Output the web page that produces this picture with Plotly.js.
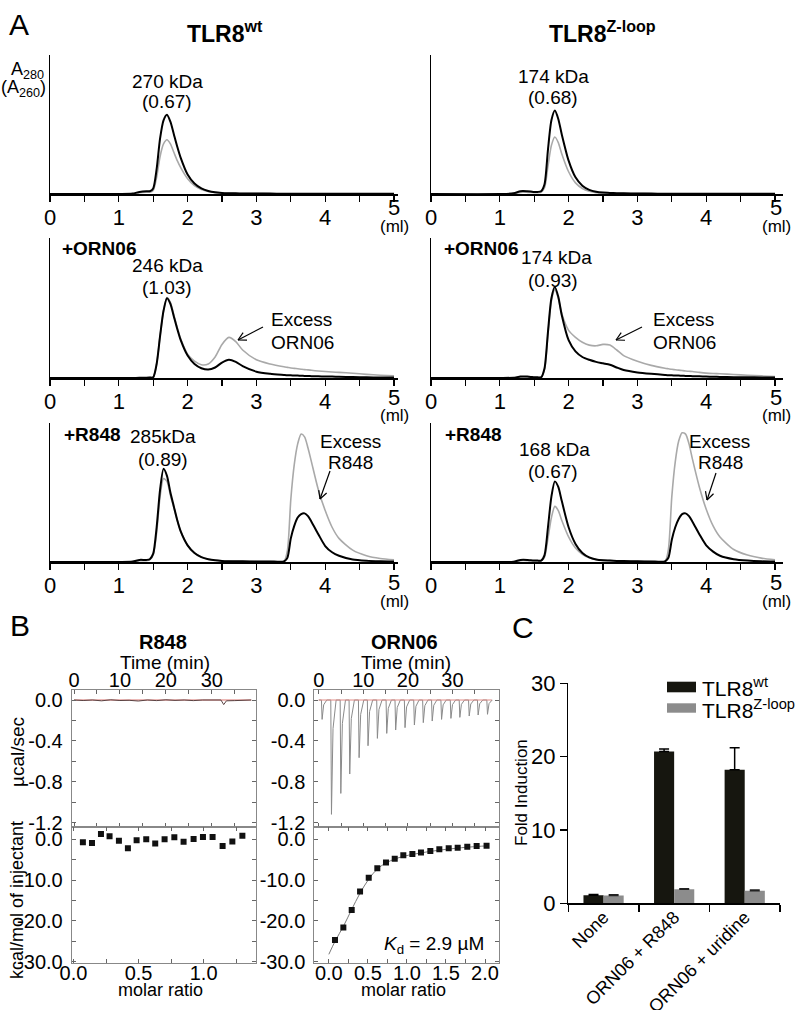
<!DOCTYPE html>
<html>
<head>
<meta charset="utf-8">
<script src="https://cdn.plot.ly/plotly-3.0.1.min.js"></script>
<style>html,body{margin:0;padding:0;background:#fff;}#chart{width:796px;height:1010px;}</style>
</head>
<body>
<div id="chart"></div>
<script>
// ---------- DATA ----------
// Panel A: elution volume grid (ml) and absorbance traces (A280 black, A260 gray), normalized to axis height
const elution = [0, 1.0, 1.2, 1.3, 1.4, 1.45, 1.5, 1.55, 1.6, 1.65, 1.7, 1.75, 1.8, 1.85, 1.9, 2.0, 2.1, 2.2, 2.3, 2.4, 2.5, 2.6, 2.7, 2.8, 3.0, 3.2, 3.4, 3.45, 3.5, 3.55, 3.6, 3.65, 3.7, 3.75, 3.8, 3.9, 4.0, 4.1, 4.2, 4.4, 4.6, 4.8, 5.0];
const wt_apo_A280 = [0,0,0.003,0.015,0.02,0.02,0.04,0.18,0.40,0.53,0.57,0.52,0.43,0.34,0.26,0.14,0.075,0.04,0.022,0.012,0.008,0.006,0.005,0.004,0.003,0.003,0.002,0.002,0.002,0.002,0.002,0.002,0.002,0.002,0.002,0.002,0.002,0.002,0.002,0.001,0.001,0.001,0.001];
const wt_apo_A260 = [0,0,0.002,0.01,0.013,0.013,0.025,0.12,0.27,0.36,0.39,0.36,0.30,0.24,0.19,0.11,0.06,0.033,0.018,0.01,0.007,0.005,0.004,0.003,0.003,0.002,0.002,0.002,0.002,0.002,0.002,0.002,0.002,0.002,0.002,0.002,0.002,0.002,0.002,0.001,0.001,0.001,0.001];
const zl_apo_A280 = [0,0,0.005,0.02,0.02,0.018,0.015,0.015,0.02,0.07,0.32,0.53,0.60,0.54,0.43,0.24,0.12,0.06,0.03,0.016,0.01,0.008,0.006,0.005,0.004,0.003,0.002,0.002,0.002,0.002,0.002,0.002,0.002,0.002,0.002,0.002,0.002,0.002,0.002,0.001,0.001,0.001,0.001];
const zl_apo_A260 = [0,0,0.003,0.012,0.012,0.011,0.01,0.01,0.013,0.045,0.20,0.35,0.41,0.37,0.29,0.16,0.08,0.04,0.02,0.01,0.007,0.005,0.004,0.003,0.003,0.002,0.002,0.002,0.002,0.002,0.002,0.002,0.002,0.002,0.002,0.002,0.002,0.002,0.002,0.001,0.001,0.001,0.001];
const wt_orn_A280 = [0,0,0,0.001,0.002,0.003,0.005,0.1,0.3,0.48,0.57,0.53,0.44,0.35,0.27,0.16,0.1,0.07,0.06,0.075,0.11,0.13,0.115,0.085,0.045,0.03,0.022,0.02,0.019,0.018,0.017,0.016,0.015,0.014,0.013,0.012,0.011,0.01,0.009,0.007,0.005,0.004,0.003];
const wt_orn_A260 = [0,0,0,0.001,0.002,0.003,0.005,0.1,0.3,0.48,0.575,0.54,0.45,0.36,0.28,0.17,0.12,0.095,0.1,0.15,0.24,0.29,0.26,0.2,0.13,0.1,0.08,0.076,0.072,0.069,0.066,0.063,0.06,0.058,0.055,0.05,0.046,0.043,0.04,0.034,0.026,0.02,0.015];
const zl_orn_A280 = [0,0,0.002,0.01,0.01,0.008,0.005,0.005,0.005,0.07,0.33,0.57,0.65,0.58,0.45,0.27,0.19,0.15,0.13,0.115,0.105,0.095,0.075,0.057,0.04,0.03,0.022,0.02,0.019,0.018,0.017,0.016,0.015,0.014,0.013,0.012,0.01,0.009,0.008,0.006,0.005,0.004,0.003];
const zl_orn_A260 = [0,0,0.002,0.008,0.008,0.006,0.004,0.004,0.004,0.06,0.31,0.55,0.63,0.57,0.46,0.34,0.29,0.255,0.235,0.23,0.24,0.235,0.2,0.16,0.12,0.09,0.07,0.066,0.062,0.059,0.056,0.053,0.05,0.048,0.046,0.04,0.035,0.032,0.03,0.025,0.02,0.015,0.01];
const wt_r848_A280 = [0,0,0.003,0.015,0.015,0.02,0.06,0.25,0.52,0.67,0.62,0.5,0.4,0.3,0.22,0.12,0.065,0.035,0.02,0.012,0.008,0.006,0.005,0.005,0.004,0.004,0.004,0.03,0.17,0.26,0.32,0.345,0.35,0.33,0.29,0.2,0.115,0.07,0.045,0.018,0.009,0.005,0.003];
const wt_r848_A260 = [0,0,0.002,0.01,0.01,0.015,0.05,0.21,0.47,0.6,0.58,0.48,0.39,0.3,0.22,0.12,0.065,0.035,0.02,0.012,0.008,0.006,0.005,0.005,0.004,0.004,0.004,0.08,0.45,0.7,0.85,0.92,0.9,0.82,0.72,0.52,0.37,0.25,0.17,0.085,0.045,0.025,0.015];
const zl_r848_A280 = [0,0,0.002,0.015,0.015,0.012,0.01,0.01,0.01,0.05,0.25,0.47,0.58,0.54,0.44,0.25,0.13,0.065,0.033,0.018,0.012,0.01,0.008,0.007,0.005,0.004,0.004,0.03,0.16,0.25,0.31,0.345,0.35,0.33,0.29,0.2,0.12,0.075,0.045,0.02,0.01,0.005,0.003];
const zl_r848_A260 = [0,0,0.002,0.01,0.01,0.009,0.008,0.008,0.008,0.035,0.17,0.32,0.4,0.37,0.3,0.18,0.1,0.055,0.03,0.018,0.012,0.01,0.008,0.007,0.005,0.004,0.004,0.09,0.47,0.72,0.87,0.93,0.92,0.85,0.74,0.54,0.38,0.26,0.18,0.09,0.05,0.028,0.016];
const volTicks = [0, 1, 2, 3, 4];
const volTickText = ['0', '1', '2', '3', '4'];
const volMinorTicks = [0.5, 1.5, 2.5, 3.5, 4.5, 5];

// Panel B: ITC
const r848_time = [0, 2, 4, 6, 8, 10, 12, 14, 16, 18, 20, 22, 24, 26, 28, 30, 32, 32.6, 33.2, 35, 37, 38.6];
const r848_rate = [0, -0.005, 0, -0.008, 0.002, -0.005, -0.003, -0.01, 0, -0.006, 0.002, -0.004, 0, -0.006, 0, -0.003, 0, -0.045, -0.008, -0.006, -0.004, 0];
const r848_ratio = [0.072, 0.142, 0.211, 0.277, 0.349, 0.418, 0.485, 0.559, 0.628, 0.70, 0.775, 0.846, 0.923, 0.995, 1.069, 1.146, 1.221, 1.298];
const r848_heat = [-0.74, -0.9, 1.3, 0.74, -0.34, -2.2, -0.25, 0, -1.0, 0, 0.5, -0.6, 0.07, 0.56, 0.56, -1.64, -0.5, 0.9];
const orn_inj_time = [0.6, 2.7, 4.8, 6.8, 8.9, 10.9, 13.0, 15.1, 17.1, 19.2, 21.3, 23.3, 25.3, 27.4, 29.5, 31.5, 33.6, 35.6, 37.7];
const orn_inj_peak = [-0.19, -1.12, -0.915, -0.725, -0.565, -0.448, -0.376, -0.327, -0.294, -0.271, -0.245, -0.222, -0.206, -0.19, -0.18, -0.17, -0.157, -0.147, -0.14];
const orn_ratio = [0.079, 0.186, 0.293, 0.40, 0.511, 0.621, 0.732, 0.844, 0.954, 1.07, 1.18, 1.30, 1.415, 1.535, 1.65, 1.773, 1.893, 2.02];
const orn_heat = [-24.7, -21.6, -17.3, -12.8, -9.4, -7.1, -5.7, -4.75, -3.9, -3.6, -3.2, -2.87, -2.45, -2.2, -2.05, -1.8, -1.64, -1.55];
const orn_fit_ratio = [0.0, 0.08, 0.19, 0.29, 0.4, 0.51, 0.62, 0.73, 0.85, 0.95, 1.1, 1.3, 1.5, 1.7, 1.9, 2.02];
const orn_fit_heat = [-28.2, -25.0, -21.2, -17.3, -13.2, -9.8, -7.3, -5.8, -4.8, -4.2, -3.6, -2.95, -2.45, -2.05, -1.75, -1.6];

// Panel C: fold induction
const categories = ['None', 'ORN06 + R848', 'ORN06 + uridine'];
const wt_fold = [1.1, 20.7, 18.2];
const wt_err = [0.1, 0.35, 3.0];
const zl_fold = [1.05, 1.9, 1.7];
const zl_err = [0.1, 0.1, 0.1];

// ---------- LAYOUT HELPERS ----------
const W = 796, H = 1010;
const F = 'Liberation Sans, Arial, Helvetica, sans-serif';
const PX = x => x / W, PY = y => 1 - y / H;
function T(text, x, y, size, opts) {
  return Object.assign({text: text, x: PX(x), y: PY(y), xref: 'paper', yref: 'paper', showarrow: false,
    xanchor: 'center', yanchor: 'middle', font: {family: F, size: size, color: '#000'}}, opts || {});
}
function L(x0, y0, x1, y1, w) {
  return {type: 'line', xref: 'paper', yref: 'paper', x0: PX(x0), y0: PY(y0), x1: PX(x1), y1: PY(y1),
    line: {color: '#000', width: w || 1.2}};
}
function arrow(tx, ty, hx, hy) {
  const dx = hx - tx, dy = hy - ty, len = Math.hypot(dx, dy);
  const ux = dx / len, uy = dy / len, hl = 9, a = 28 * Math.PI / 180;
  const r = (s) => [hx - hl * (ux * Math.cos(s * a) - uy * Math.sin(s * a)), hy - hl * (ux * Math.sin(s * a) + uy * Math.cos(s * a))];
  const p1 = r(1), p2 = r(-1);
  return [L(tx, ty, hx, hy), L(hx, hy, p1[0], p1[1]), L(hx, hy, p2[0], p2[1])];
}

// ---------- TRACES ----------
const traces = [];
const aSets = [
  [wt_apo_A280, wt_apo_A260], [zl_apo_A280, zl_apo_A260],
  [wt_orn_A280, wt_orn_A260], [zl_orn_A280, zl_orn_A260],
  [wt_r848_A280, wt_r848_A260], [zl_r848_A280, zl_r848_A260]
];
aSets.forEach((s, i) => {
  const xa = i === 0 ? 'x' : 'x' + (i + 1), ya = i === 0 ? 'y' : 'y' + (i + 1);
  traces.push({type: 'scatter', mode: 'lines', x: elution, y: s[1], xaxis: xa, yaxis: ya,
    line: {color: '#a9a9a9', width: 1.6, shape: 'spline', smoothing: 0.7}});
  traces.push({type: 'scatter', mode: 'lines', x: elution, y: s[0], xaxis: xa, yaxis: ya,
    line: {color: '#000', width: 2, shape: 'spline', smoothing: 0.7}});
});

traces.push({type: 'scatter', mode: 'lines', x: [r848_time[0], r848_time[r848_time.length - 1]], y: [0, 0], xaxis: 'x7', yaxis: 'y7',
  line: {color: '#d9736f', width: 1}});
traces.push({type: 'scatter', mode: 'lines', x: r848_time, y: r848_rate, xaxis: 'x7', yaxis: 'y7',
  line: {color: '#5a4343', width: 1}});
traces.push({type: 'scatter', mode: 'markers', x: r848_ratio, y: r848_heat, xaxis: 'x8', yaxis: 'y8',
  marker: {symbol: 'square', size: 6, color: '#111'}});
const spikeX = [0], spikeY = [0];
orn_inj_time.forEach((t, i) => {
  spikeX.push(t, t + 0.15, t + 0.5, t + 1.2);
  spikeY.push(0, orn_inj_peak[i], orn_inj_peak[i] * 0.25, 0);
});
spikeX.push(38.8); spikeY.push(0);
traces.push({type: 'scatter', mode: 'lines', x: spikeX, y: spikeY, xaxis: 'x9', yaxis: 'y9',
  line: {color: '#8a8a8a', width: 1}});
traces.push({type: 'scatter', mode: 'lines', x: [0, 38.8], y: [0, 0], xaxis: 'x9', yaxis: 'y9',
  line: {color: '#e08a85', width: 1}});
traces.push({type: 'scatter', mode: 'lines', x: orn_fit_ratio, y: orn_fit_heat, xaxis: 'x10', yaxis: 'y10',
  line: {color: '#7a7a7a', width: 1, shape: 'spline'}});
traces.push({type: 'scatter', mode: 'markers', x: orn_ratio, y: orn_heat, xaxis: 'x10', yaxis: 'y10',
  marker: {symbol: 'square', size: 6, color: '#111'}});

traces.push({type: 'bar', x: categories, y: wt_fold, xaxis: 'x11', yaxis: 'y11', name: 'TLR8wt',
  marker: {color: '#16160f', line: {width: 0}},
  error_y: {type: 'data', symmetric: false, array: wt_err, arrayminus: wt_err.map(() => 0), color: '#000', thickness: 1.5, width: 5}});
traces.push({type: 'bar', x: categories, y: zl_fold, xaxis: 'x11', yaxis: 'y11', name: 'TLR8Z-loop',
  marker: {color: '#8c8c8c', line: {width: 0}},
  error_y: {type: 'data', symmetric: false, array: zl_err, arrayminus: zl_err.map(() => 0), color: '#222', thickness: 1.5, width: 5}});

// ---------- AXES ----------
const AL = [50 / W, 398 / W], AR = [431 / W, 783 / W];
const R1 = [PY(194), PY(55)], R2 = [PY(378), PY(238)], R3 = [PY(562), PY(423)];
function aX(dom, rng, anchor) {
  return {domain: dom, range: rng, anchor: anchor, showline: true, linecolor: '#000', linewidth: 1.5,
    ticks: 'outside', ticklen: 6, tickwidth: 1.3, tickcolor: '#000', tickmode: 'array',
    tickvals: volTicks, ticktext: volTickText, ticklabelstandoff: -3,
    minor: {tickmode: 'array', tickvals: volMinorTicks, ticks: 'outside', ticklen: 6, tickwidth: 1.3, tickcolor: '#000'},
    tickfont: {family: F, size: 22, color: '#000'},
    showgrid: false, zeroline: false, fixedrange: true};
}
function aY(dom, anchor) {
  return {domain: dom, range: [0, 1], anchor: anchor, showline: true, linecolor: '#000', linewidth: 1.5,
    showticklabels: false, ticks: '', showgrid: false, zeroline: false, fixedrange: true};
}
function bAxis(extra, minorVals) {
  return Object.assign({showline: true, linecolor: '#888', linewidth: 1, mirror: 'ticks', ticks: 'inside',
    ticklen: 4, tickwidth: 1, tickcolor: '#666', tickmode: 'array', showgrid: false, zeroline: false,
    minor: {tickmode: 'array', tickvals: minorVals, ticks: 'inside', ticklen: 4, tickwidth: 1, tickcolor: '#666'},
    tickfont: {family: F, size: 20, color: '#000'}, fixedrange: true}, extra);
}
const BL = [PX(71.7), PX(256.3)], BR = [PX(314.3), PX(499.3)];
const BT = [PY(826.7), PY(690)], BB = [PY(963.3), PY(826.7)];
const rateTicks = {tickvals: [0, -0.4, -0.8, -1.2], ticktext: ['0.0', '-0.4', '-0.8', '-1.2'], range: [-1.241, 0.098], ticklabelstandoff: 4};
const rateMinor = [-0.2, -0.6, -1.0];
const heatTicks = {tickvals: [0, -10, -20, -30], ticktext: ['0.0', '-10.0', '-20.0', '-30.0'], range: [-30.4, 3.1], ticklabelstandoff: 4};
const heatMinor = [-5, -15, -25];
const timeTicks = {tickvals: [0, 10, 20, 30], ticktext: ['0', '10', '20', '30'], side: 'top', ticklabelstandoff: -6};
const timeMinor = [5, 15, 25, 35];

const layout = {
  width: W, height: H, margin: {l: 0, r: 0, t: 0, b: 0}, showlegend: false,
  paper_bgcolor: '#fff', plot_bgcolor: 'rgba(0,0,0,0)', hovermode: false,
  font: {family: F, color: '#000'},
  barmode: 'group', bargap: 0.43, bargroupgap: 0,
  xaxis: aX(AL, [0, 5.058], 'y'), yaxis: aY(R1, 'x'),
  xaxis2: aX(AR, [0, 5.116], 'y2'), yaxis2: aY(R1, 'x2'),
  xaxis3: aX(AL, [0, 5.058], 'y3'), yaxis3: aY(R2, 'x3'),
  xaxis4: aX(AR, [0, 5.116], 'y4'), yaxis4: aY(R2, 'x4'),
  xaxis5: aX(AL, [0, 5.058], 'y5'), yaxis5: aY(R3, 'x5'),
  xaxis6: aX(AR, [0, 5.116], 'y6'), yaxis6: aY(R3, 'x6'),
  xaxis7: bAxis(Object.assign({domain: BL, anchor: 'y7', range: [-0.5, 39.7]}, timeTicks), timeMinor),
  yaxis7: bAxis(Object.assign({domain: BT, anchor: 'x7'}, rateTicks), rateMinor),
  xaxis8: bAxis({domain: BL, anchor: 'y8', range: [-0.014, 1.405], tickvals: [0, 0.5, 1.0], ticktext: ['0.0', '0.5', '1.0'], ticklabelstandoff: -8}, [0.25, 0.75, 1.25]),
  yaxis8: bAxis(Object.assign({domain: BB, anchor: 'x8'}, heatTicks), heatMinor),
  xaxis9: bAxis(Object.assign({domain: BR, anchor: 'y9', range: [-1.0, 40.5]}, timeTicks), timeMinor),
  yaxis9: bAxis(Object.assign({domain: BT, anchor: 'x9'}, rateTicks), rateMinor),
  xaxis10: bAxis({domain: BR, anchor: 'y10', range: [-0.186, 2.183], tickvals: [0, 0.5, 1.0, 1.5, 2.0], ticktext: ['0.0', '0.5', '1.0', '1.5', '2.0'], ticklabelstandoff: -8}, [0.25, 0.75, 1.25, 1.75]),
  yaxis10: bAxis(Object.assign({domain: BB, anchor: 'x10'}, heatTicks), heatMinor),
  xaxis11: {domain: [PX(568.3), PX(780)], anchor: 'y11', type: 'category', range: [-0.5, 2.5],
    showline: true, linecolor: '#000', linewidth: 1.5, ticks: 'outside', tickson: 'boundaries', ticklen: 7,
    tickwidth: 1.5, tickcolor: '#000', tickangle: -45, ticklabelstandoff: -5,
    tickfont: {family: F, size: 18, color: '#000'},
    showgrid: false, zeroline: false, fixedrange: true},
  yaxis11: {domain: [PY(903.3), PY(683.3)], anchor: 'x11', range: [0, 30], tickmode: 'array',
    tickvals: [0, 10, 20, 30], showline: true, linecolor: '#000', linewidth: 1.5, ticks: 'outside', ticklen: 7,
    tickwidth: 1.5, tickcolor: '#000', tickfont: {family: F, size: 22, color: '#000'}, showgrid: false,
    zeroline: false, fixedrange: true},
  annotations: [
    // Panel A
    T('A', 19, 24, 30),
    T('<b>TLR8<sup>wt</sup></b>', 225, 32, 23),
    T('<b>TLR8<sup>Z-loop</sup></b>', 602, 32, 23),
    T('A<sub>280</sub>', 27, 70, 18),
    T('(A<sub>260</sub>)', 23, 89, 18),
    T('270 kDa', 167, 82, 19), T('(0.67)', 167, 102, 19),
    T('174 kDa', 553, 77, 19), T('(0.68)', 553, 98, 19),
    T('<b>+ORN06</b>', 60, 248, 19, {xanchor: 'left'}),
    T('246 kDa', 167, 265, 19), T('(1.03)', 167, 287, 19),
    T('Excess', 269, 319, 19, {xanchor: 'left'}), T('ORN06', 269, 342, 19, {xanchor: 'left'}),
    T('<b>+ORN06</b>', 442, 248, 19, {xanchor: 'left'}),
    T('174 kDa', 556, 257, 19), T('(0.93)', 553, 280, 19),
    T('Excess', 651, 319, 19, {xanchor: 'left'}), T('ORN06', 651, 342, 19, {xanchor: 'left'}),
    T('<b>+R848</b>', 62, 435, 19, {xanchor: 'left'}),
    T('285kDa', 163, 437, 19), T('(0.89)', 163, 460, 19),
    T('Excess', 350, 442, 19), T('R848', 350, 463, 19),
    T('<b>+R848</b>', 443, 435, 19, {xanchor: 'left'}),
    T('168 kDa', 554, 450, 19), T('(0.67)', 553, 472, 19),
    T('Excess', 719, 442, 19), T('R848', 720, 463, 19),
    T('5', 394, 208, 22), T('5', 776, 208, 22),
    T('5', 394, 397, 22), T('5', 776, 397, 22),
    T('5', 394, 582, 22), T('5', 776, 582, 22),
    T('(ml)', 394, 227, 17), T('(ml)', 776, 227, 17),
    T('(ml)', 394, 416, 17), T('(ml)', 776, 416, 17),
    T('(ml)', 394, 601, 17), T('(ml)', 776, 601, 17),
    // Panel B
    T('B', 20, 625, 30),
    T('<b>R848</b>', 163, 642, 20), T('Time (min)', 165, 662, 19),
    T('<b>ORN06</b>', 404, 642, 20), T('Time (min)', 406, 662, 19),
    T('µcal/sec', 17, 752, 19, {textangle: -90}),
    T('kcal/mol of injectant', 17, 900, 18, {textangle: -90}),
    T('molar ratio', 160, 990, 18), T('molar ratio', 403, 990, 18),
    T('<i>K</i><sub>d</sub> = 2.9 µM', 434, 945, 19),
    // Panel C
    T('C', 523, 627, 30),
    T('Fold Induction', 521, 793, 17, {textangle: -90}),
    T('TLR8<sup>wt</sup>', 700, 687, 21, {xanchor: 'left'}),
    T('TLR8<sup>Z-loop</sup>', 700, 709, 21, {xanchor: 'left'})
  ],
  shapes: [].concat(
    arrow(263, 327, 238, 340),
    arrow(642, 327, 616, 340),
    arrow(330, 471, 320, 499),
    arrow(716, 473, 707, 500),
    [
      {type: 'rect', xref: 'paper', yref: 'paper', x0: PX(667), x1: PX(696), y0: PY(692.3), y1: PY(681.7), fillcolor: '#16160f', line: {width: 0}},
      {type: 'rect', xref: 'paper', yref: 'paper', x0: PX(667), x1: PX(696), y0: PY(712.7), y1: PY(703.3), fillcolor: '#8c8c8c', line: {width: 0}}
    ]
  )
};

Plotly.newPlot('chart', traces, layout, {staticPlot: true, displayModeBar: false});
</script>
</body>
</html>
